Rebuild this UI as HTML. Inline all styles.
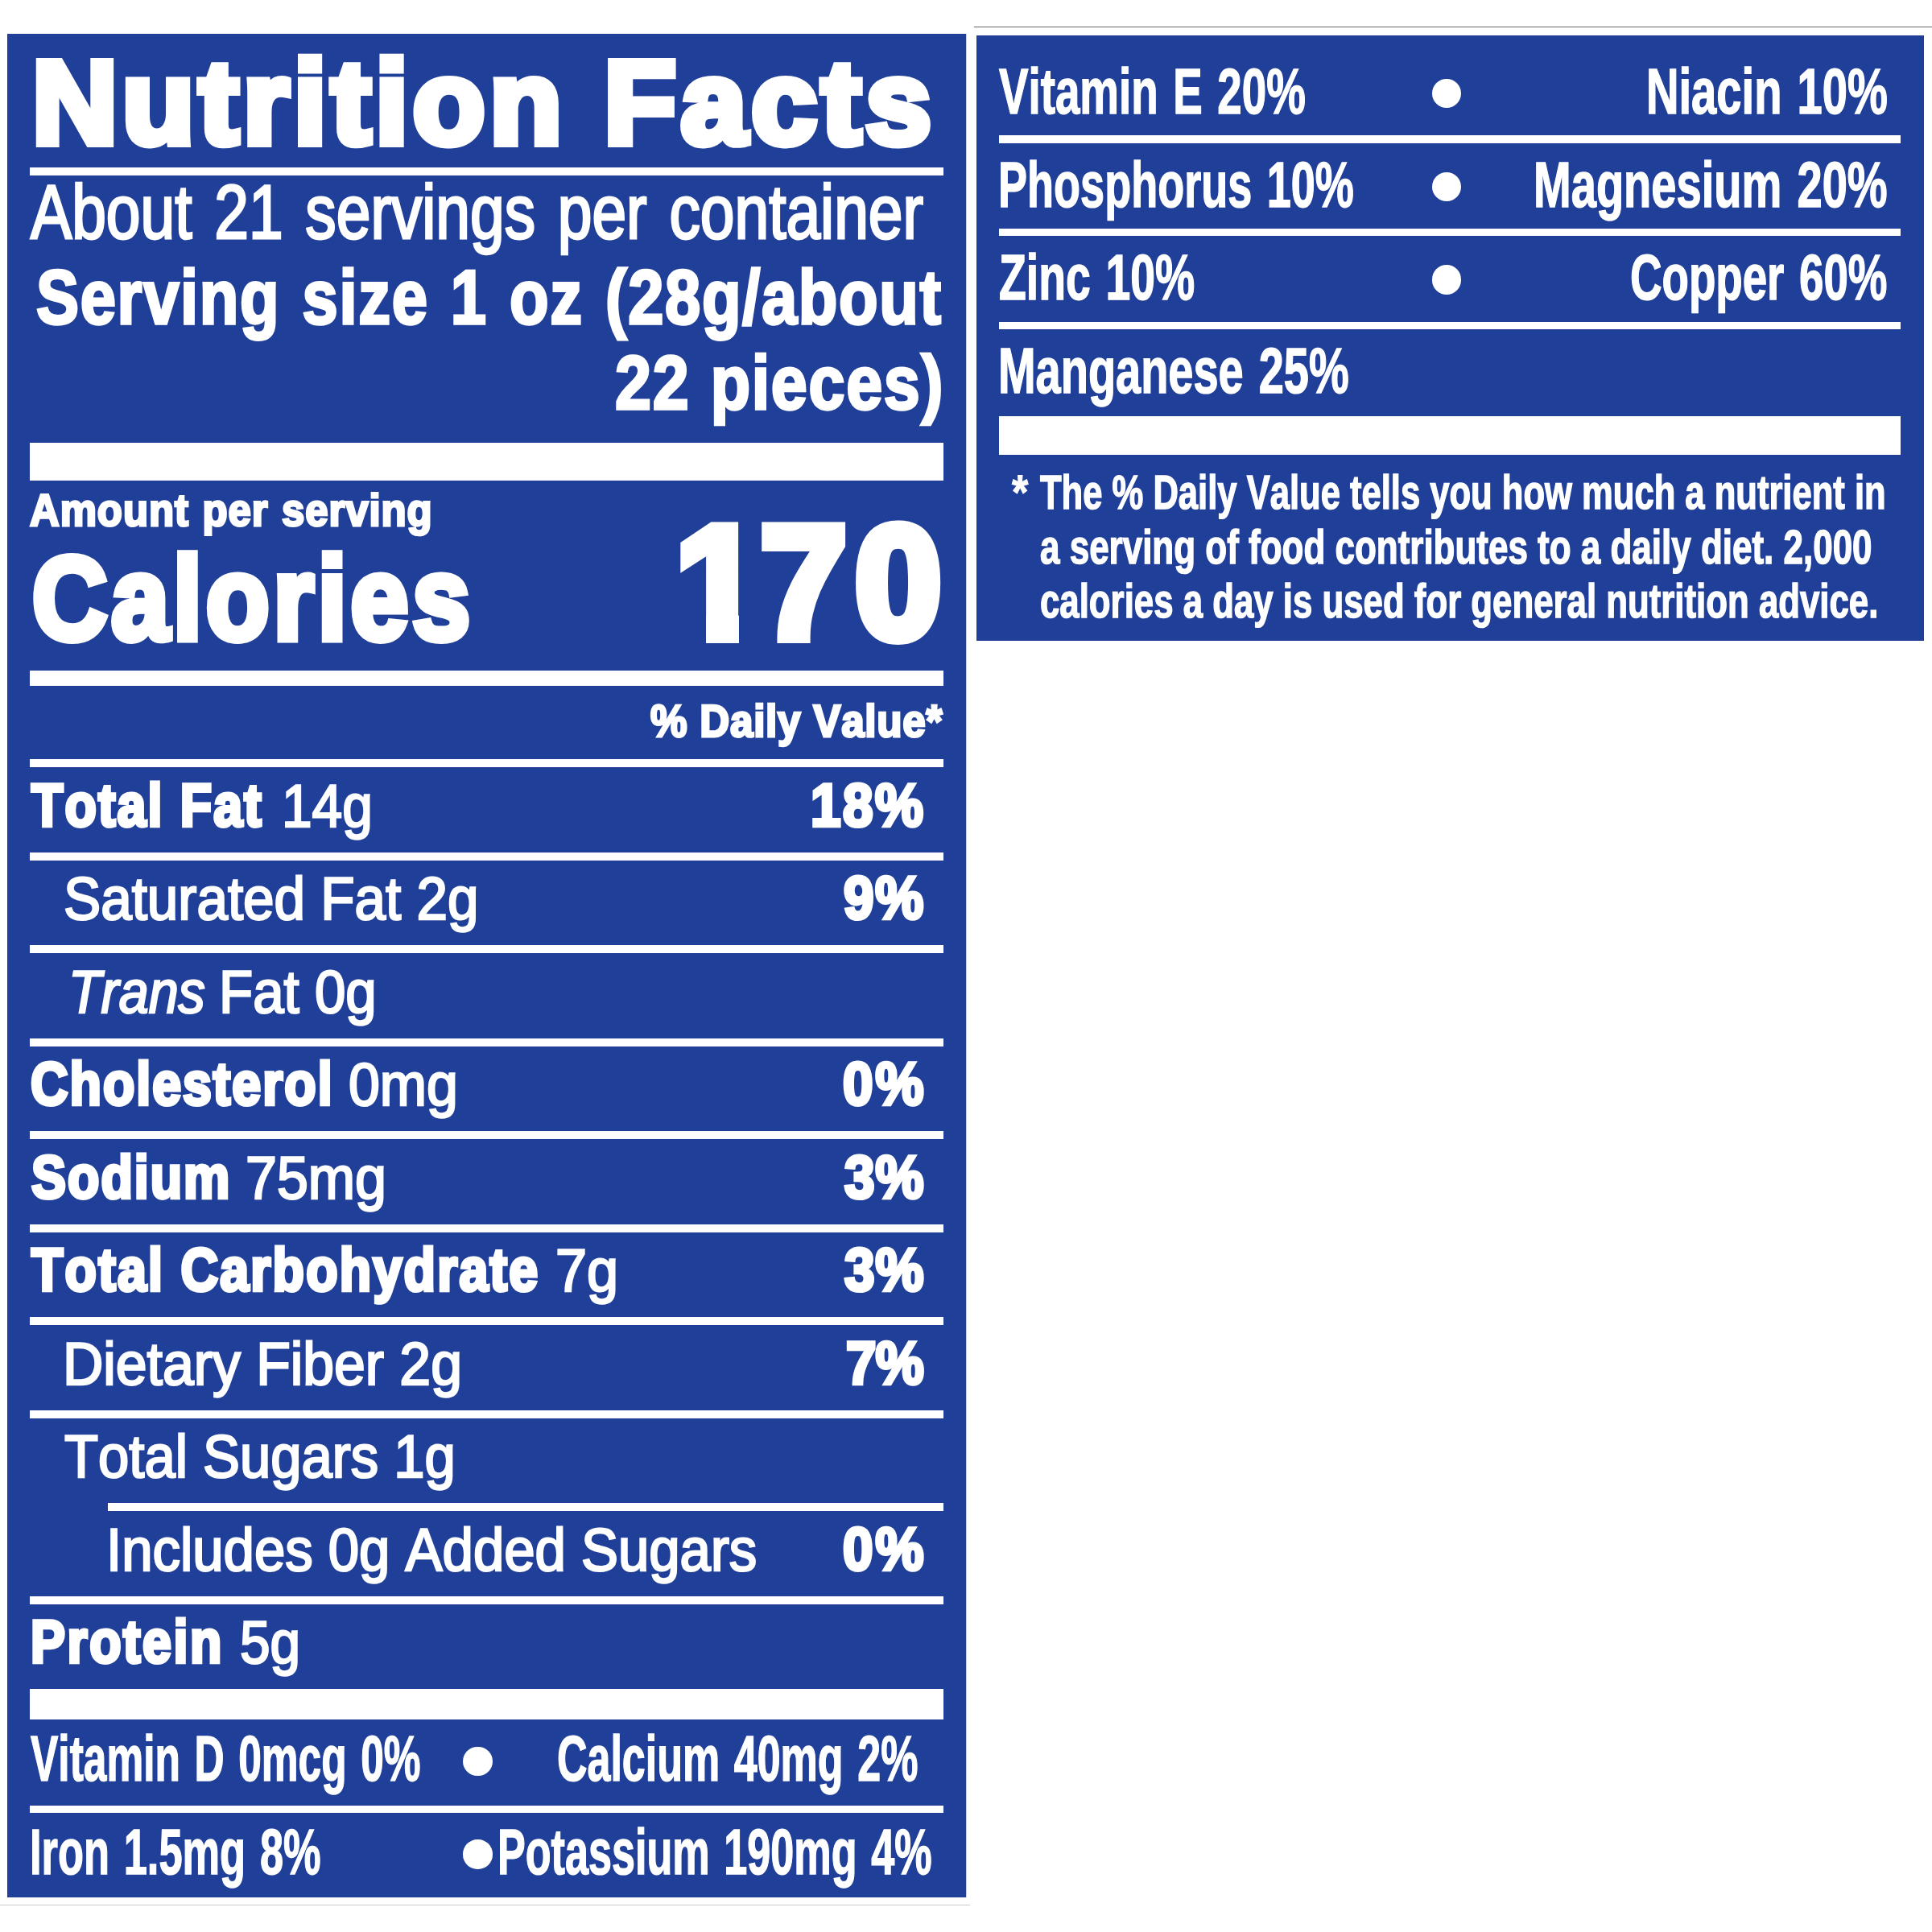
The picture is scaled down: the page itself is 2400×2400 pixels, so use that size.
<!DOCTYPE html><html><head><meta charset="utf-8"><title>Nutrition Facts</title><style>
html,body{margin:0;padding:0;background:#fff;}
#c{position:relative;width:2400px;height:2400px;overflow:hidden;background:#fff;font-family:"Liberation Sans", sans-serif;color:#fff;}
#c div,#c .t{position:absolute;}
#c .r{background:#fff}#c .bg{background:#203f98}
#c .t{white-space:nowrap;line-height:1;transform-origin:0 0;-webkit-text-stroke-color:#fff;text-rendering:geometricPrecision;font-kerning:none;}
.b{font-weight:700}.i{font-style:italic}
.dot{border-radius:50%;background:#fff}
</style></head><body><div id="c">
<div style="left:1210px;top:33px;width:1190px;height:1px;background:#666"></div>
<div style="left:0px;top:2366px;width:1205px;height:1px;background:#ccc"></div>
<div style="left:1200px;top:42px;width:1px;height:2315px;background:#c9d1ea"></div>
<section id="facts">
<div class="bg" style="left:9px;top:42px;width:1191px;height:2315px"></div>
<div class="r" style="left:37px;top:208px;width:1134.5px;height:10px"></div>
<div class="r" style="left:37px;top:550px;width:1134.5px;height:47px"></div>
<div class="r" style="left:37px;top:833px;width:1134.5px;height:19px"></div>
<div class="r" style="left:37px;top:943px;width:1134.5px;height:10px"></div>
<div class="r" style="left:37px;top:1058.5px;width:1134.5px;height:10px"></div>
<div class="r" style="left:37px;top:1174px;width:1134.5px;height:10px"></div>
<div class="r" style="left:37px;top:1289.5px;width:1134.5px;height:10px"></div>
<div class="r" style="left:37px;top:1405px;width:1134.5px;height:10px"></div>
<div class="r" style="left:37px;top:1520.5px;width:1134.5px;height:10px"></div>
<div class="r" style="left:37px;top:1636px;width:1134.5px;height:10px"></div>
<div class="r" style="left:37px;top:1751.5px;width:1134.5px;height:10px"></div>
<div class="r" style="left:134px;top:1867px;width:1037.5px;height:10px"></div>
<div class="r" style="left:37px;top:1982.5px;width:1134.5px;height:10px"></div>
<div class="r" style="left:37px;top:2098px;width:1134.5px;height:37.5px"></div>
<div class="r" style="left:37px;top:2242.5px;width:1134.5px;height:9.5px"></div>
<div class="dot" style="left:575.4px;top:2169.5px;width:36.2px;height:36.2px"></div>
<div class="dot" style="left:575.4px;top:2285.4px;width:36.2px;height:36.2px"></div>
<span class="t b" style="left:39.98px;top:55.00px;font-size:146.80px;transform:scaleX(1.0000);-webkit-text-stroke-width:10px;letter-spacing:5.80px;">Nutrition Facts</span>
<span class="t" style="left:38.06px;top:217.00px;font-size:94.91px;transform:scaleX(0.8083);-webkit-text-stroke-width:3px;word-spacing:8.00px;">About 21 servings per container</span>
<span class="t b" style="left:45.47px;top:323.00px;font-size:95.21px;transform:scaleX(0.8350);-webkit-text-stroke-width:3.5px;letter-spacing:2.00px;word-spacing:4.27px;">Serving size 1 oz (28g/about</span>
<span class="t b" style="left:764.20px;top:429.00px;font-size:94.48px;transform:scaleX(0.8550);-webkit-text-stroke-width:3.5px;letter-spacing:2.00px;word-spacing:1.47px;">22 pieces)</span>
<span class="t b" style="left:37.10px;top:606.00px;font-size:55.96px;transform:scaleX(0.9100);-webkit-text-stroke-width:3px;letter-spacing:1.00px;word-spacing:1.79px;">Amount per serving</span>
<span class="t b" style="left:39.66px;top:671.00px;font-size:146.80px;transform:scaleX(0.8800);-webkit-text-stroke-width:9px;letter-spacing:5.55px;">Calories</span>
<span class="t b" style="left:839.27px;top:625.00px;font-size:198.40px;transform:scaleX(0.9700);-webkit-text-stroke-width:14px;letter-spacing:5.07px;"><span style="letter-spacing:-1.3px">1</span><span style="letter-spacing:10.7px">7</span>0</span>
<span class="t b" style="left:807.99px;top:868.00px;font-size:56.25px;transform:scaleX(0.9100);-webkit-text-stroke-width:3px;letter-spacing:0.80px;word-spacing:0.08px;">% Daily Value*</span>
<span class="t b" style="left:39.21px;top:963.00px;font-size:74.86px;transform:scaleX(0.8600);-webkit-text-stroke-width:4.5px;letter-spacing:2.53px;">Total Fat</span>
<span class="t" style="left:349.98px;top:964.00px;font-size:74.86px;transform:scaleX(0.9035);-webkit-text-stroke-width:2.5px;">14g</span>
<span class="t b" style="left:1007.08px;top:963.00px;font-size:74.86px;transform:scaleX(0.9000);-webkit-text-stroke-width:4.5px;letter-spacing:2.79px;">18%</span>
<span class="t" style="left:79.41px;top:1079.00px;font-size:74.86px;transform:scaleX(0.9244);-webkit-text-stroke-width:2.5px;">Saturated Fat 2g</span>
<span class="t b" style="left:1048.49px;top:1078.00px;font-size:74.86px;transform:scaleX(0.9000);-webkit-text-stroke-width:4.5px;letter-spacing:2.10px;">9%</span>
<span class="t i" style="left:85.14px;top:1195.00px;font-size:74.86px;transform:scaleX(0.8874);-webkit-text-stroke-width:2.5px;">Trans</span>
<span class="t" style="left:271.89px;top:1195.00px;font-size:74.86px;transform:scaleX(0.9222);-webkit-text-stroke-width:2.5px;">Fat 0g</span>
<span class="t b" style="left:38.09px;top:1309.00px;font-size:74.86px;transform:scaleX(0.8600);-webkit-text-stroke-width:4.5px;letter-spacing:2.37px;">Cholesterol</span>
<span class="t" style="left:433.24px;top:1310.00px;font-size:74.86px;transform:scaleX(0.9332);-webkit-text-stroke-width:2.5px;">0mg</span>
<span class="t b" style="left:1047.36px;top:1309.00px;font-size:74.86px;transform:scaleX(0.9000);-webkit-text-stroke-width:4.5px;letter-spacing:3.35px;">0%</span>
<span class="t b" style="left:38.88px;top:1425.00px;font-size:74.86px;transform:scaleX(0.8600);-webkit-text-stroke-width:4.5px;letter-spacing:2.40px;">Sodium</span>
<span class="t" style="left:305.08px;top:1426.00px;font-size:74.86px;transform:scaleX(0.9343);-webkit-text-stroke-width:2.5px;">75mg</span>
<span class="t b" style="left:1049.28px;top:1425.00px;font-size:74.86px;transform:scaleX(0.9000);-webkit-text-stroke-width:4.5px;letter-spacing:1.22px;">3%</span>
<span class="t b" style="left:39.21px;top:1540.00px;font-size:74.86px;transform:scaleX(0.8600);-webkit-text-stroke-width:4.5px;letter-spacing:2.66px;">Total Carbohydrate</span>
<span class="t" style="left:689.57px;top:1541.00px;font-size:74.86px;transform:scaleX(0.9377);-webkit-text-stroke-width:2.5px;">7g</span>
<span class="t b" style="left:1049.28px;top:1540.00px;font-size:74.86px;transform:scaleX(0.9000);-webkit-text-stroke-width:4.5px;letter-spacing:1.22px;">3%</span>
<span class="t" style="left:78.45px;top:1657.00px;font-size:74.86px;transform:scaleX(0.9312);-webkit-text-stroke-width:2.5px;">Dietary Fiber 2g</span>
<span class="t b" style="left:1051.13px;top:1656.00px;font-size:74.86px;transform:scaleX(0.9000);-webkit-text-stroke-width:4.5px;letter-spacing:-0.84px;">7%</span>
<span class="t" style="left:80.30px;top:1772.00px;font-size:74.86px;transform:scaleX(0.9190);-webkit-text-stroke-width:2.5px;">Total Sugars 1g</span>
<span class="t" style="left:132.39px;top:1888.00px;font-size:74.86px;transform:scaleX(0.9205);-webkit-text-stroke-width:2.5px;">Includes 0g Added Sugars</span>
<span class="t b" style="left:1047.36px;top:1887.00px;font-size:74.86px;transform:scaleX(0.9000);-webkit-text-stroke-width:4.5px;letter-spacing:3.35px;">0%</span>
<span class="t b" style="left:38.03px;top:2002.00px;font-size:74.86px;transform:scaleX(0.8600);-webkit-text-stroke-width:4.5px;letter-spacing:3.01px;">Protein</span>
<span class="t" style="left:298.12px;top:2003.00px;font-size:74.86px;transform:scaleX(0.9019);-webkit-text-stroke-width:2.5px;">5g</span>
<span class="t b" style="left:38.03px;top:2145.00px;font-size:79.94px;transform:scaleX(0.6440);-webkit-text-stroke-width:1.5px;word-spacing:5.00px;">Vitamin D 0mcg 0%</span>
<span class="t b" style="left:691.86px;top:2145.00px;font-size:79.94px;transform:scaleX(0.6500);-webkit-text-stroke-width:1.5px;word-spacing:5.00px;">Calcium 40mg 2%</span>
<span class="t b" style="left:36.79px;top:2261.00px;font-size:79.94px;transform:scaleX(0.6551);-webkit-text-stroke-width:1.5px;word-spacing:5.00px;">Iron 1.5mg 8%</span>
<span class="t b" style="left:617.70px;top:2261.00px;font-size:79.94px;transform:scaleX(0.6521);-webkit-text-stroke-width:1.5px;word-spacing:5.00px;">Potassium 190mg 4%</span>
<div class="bg" style="left:838px;top:764px;width:39px;height:39px"></div>
<div class="bg" style="left:918px;top:764px;width:39px;height:39px"></div>
</section>
<section id="vitamins">
<div class="bg" style="left:1213px;top:44px;width:1177px;height:752px"></div>
<div class="r" style="left:1241px;top:168.2px;width:1119.5px;height:9.9px"></div>
<div class="r" style="left:1241px;top:283.7px;width:1119.5px;height:9.7px"></div>
<div class="r" style="left:1241px;top:399.6px;width:1119.5px;height:9.9px"></div>
<div class="r" style="left:1241px;top:517px;width:1119.5px;height:48px"></div>
<div class="dot" style="left:1779.1px;top:98px;width:36.4px;height:36.4px"></div>
<div class="dot" style="left:1779.1px;top:213.6px;width:36.4px;height:36.4px"></div>
<div class="dot" style="left:1779.1px;top:329.2px;width:36.4px;height:36.4px"></div>
<span class="t b" style="left:1241.44px;top:74.00px;font-size:79.94px;transform:scaleX(0.6845);-webkit-text-stroke-width:1.5px;word-spacing:5.00px;">Vitamin E 20%</span>
<span class="t b" style="left:2044.57px;top:74.00px;font-size:79.94px;transform:scaleX(0.7021);-webkit-text-stroke-width:1.5px;word-spacing:5.00px;">Niacin 10%</span>
<span class="t b" style="left:1240.39px;top:190.00px;font-size:79.94px;transform:scaleX(0.6762);-webkit-text-stroke-width:1.5px;word-spacing:5.00px;">Phosphorus 10%</span>
<span class="t b" style="left:1904.78px;top:190.00px;font-size:79.94px;transform:scaleX(0.7013);-webkit-text-stroke-width:1.5px;word-spacing:5.00px;">Magnesium 20%</span>
<span class="t b" style="left:1240.87px;top:305.00px;font-size:79.94px;transform:scaleX(0.6920);-webkit-text-stroke-width:1.5px;word-spacing:5.00px;">Zinc 10%</span>
<span class="t b" style="left:2024.97px;top:305.00px;font-size:79.94px;transform:scaleX(0.6841);-webkit-text-stroke-width:1.5px;word-spacing:5.00px;">Copper 60%</span>
<span class="t b" style="left:1240.28px;top:421.00px;font-size:79.94px;transform:scaleX(0.6998);-webkit-text-stroke-width:1.5px;word-spacing:5.00px;">Manganese 25%</span>
<span class="t b" style="left:1256.58px;top:582.00px;font-size:60.18px;transform:scaleX(0.8683);-webkit-text-stroke-width:1px;">*</span>
<span class="t b" style="left:1291.66px;top:582.00px;font-size:59.45px;transform:scaleX(0.7330);-webkit-text-stroke-width:1.5px;">The % Daily Value tells you how much a nutrient in</span>
<span class="t b" style="left:1292.27px;top:650.00px;font-size:59.45px;transform:scaleX(0.7398);-webkit-text-stroke-width:1.5px;">a serving of food contributes to a daily diet. 2,000</span>
<span class="t b" style="left:1291.84px;top:717.00px;font-size:59.45px;transform:scaleX(0.7366);-webkit-text-stroke-width:1.5px;">calories a day is used for general nutrition advice.</span>
</section>
</div></body></html>
